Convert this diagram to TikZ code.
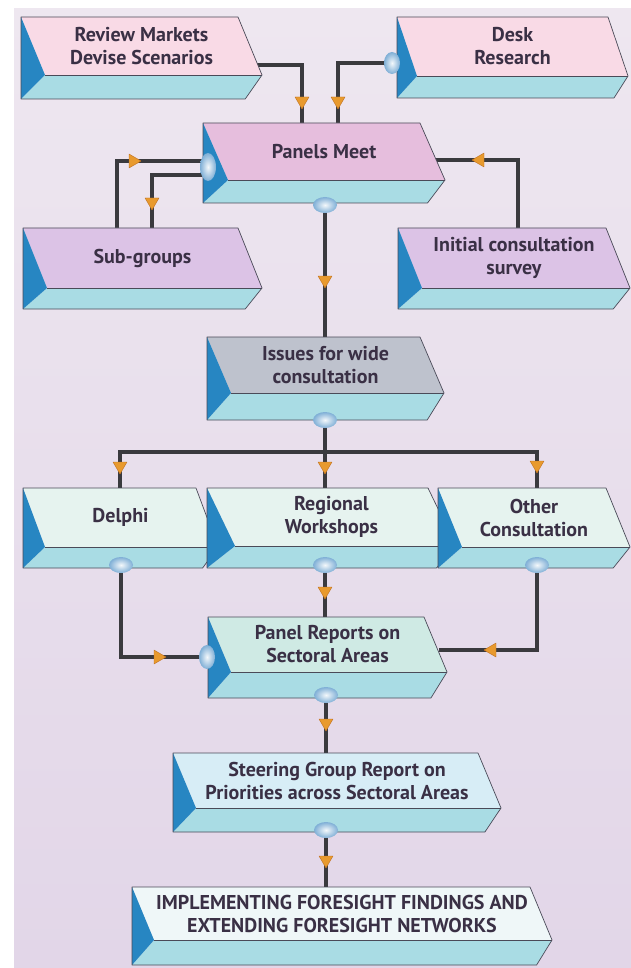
\documentclass[tikz,border=0pt]{standalone}
\usepackage{fontspec}
\setmainfont{PT Sans}
\usetikzlibrary{calc}
\definecolor{linec}{HTML}{3A3A3E}
\definecolor{frontc}{HTML}{A9DCE4}
\definecolor{tric}{HTML}{2786C2}
\definecolor{edgec}{HTML}{4A4A58}
\definecolor{textc}{HTML}{3A3045}
\definecolor{revc}{HTML}{F9DAE6}
\definecolor{pmc}{HTML}{E6BEDD}
\definecolor{subc}{HTML}{DCC3E6}
\definecolor{issc}{HTML}{BEC2CD}
\definecolor{delc}{HTML}{E6F3EF}
\definecolor{prc}{HTML}{CFEAE4}
\definecolor{stc}{HTML}{D7EDF6}
\definecolor{imc}{HTML}{EFF7F8}
\definecolor{arrowc}{HTML}{E89A2E}
\definecolor{arrowd}{HTML}{C07020}
\definecolor{ballin}{HTML}{F4F8FB}
\definecolor{ballout}{HTML}{7FAFD6}
\definecolor{bgtop}{HTML}{EEE7F0}
\definecolor{bgbot}{HTML}{E2D6E8}
\pgfdeclarelayer{back}
\pgfdeclarelayer{lines}
\pgfsetlayers{back,lines,main}
\tikzset{
  front/.style={fill=frontc},
  tri/.style={fill=tric},
  edge/.style={draw=edgec, line width=0.7pt, line join=round},
  lbl/.style={font=\bfseries\fontsize{20}{23}\selectfont, text=textc, align=center, inner sep=0pt},
  conn/.style={draw=linec, line width=3.5pt},
  arrc/.style={fill=arrowc, draw=arrowd, line width=0.4pt, line join=round},
  ballsh/.style={inner color=ballin, outer color=ballout},
}
\newcommand\prism[9]{%
  \fill[front] ({#2+#7},#5) -- ({#4+#7},#5) -- ({#4+0.3*#7},#6) -- (#2,#6) -- cycle;
  \fill[#8] (#2,#3) -- (#4,#3) -- ({#4+#7},#5) -- ({#2+#7},#5) -- cycle;
  \fill[tri] (#2,#3) -- ({#2+#7},#5) -- (#2,#6) -- cycle;
  \draw[edge] (#2,#3) -- (#4,#3) -- ({#4+#7},#5) -- ({#4+0.3*#7},#6) -- (#2,#6) -- cycle;
  \draw[edge] ({#2+#7},#5) -- ({#4+#7},#5);
  \node[lbl] (#1) at ({(#2+#4+#7)/2},{(#3+#5)/2}) {#9};
}
\newcommand\arrD[1]{\filldraw[arrc, shift={(#1)}] (0,6) -- (-7,-6) -- (7,-6) -- cycle;}
\newcommand\arrR[1]{\filldraw[arrc, shift={(#1)}] (6,0) -- (-6,-7) -- (-6,7) -- cycle;}
\newcommand\arrL[1]{\filldraw[arrc, shift={(#1)}] (-6,0) -- (6,-7) -- (6,7) -- cycle;}
\begin{document}
\begin{tikzpicture}[x=1pt,y=-1pt]
\useasboundingbox (0,0) rectangle (631,968);
\begin{pgfonlayer}{back}
  \fill[white] (0,0) rectangle (631,968);
  \shade[top color=bgtop, bottom color=bgbot] (14,9) rectangle (631,968);
\end{pgfonlayer}

\prism{rev}{21}{17}{238}{75}{99}{24}{revc}{Review Markets\\Devise Scenarios}
\prism{desk}{397}{17}{608}{76}{98}{20}{revc}{Desk\\Research}
\prism{pm}{203}{123}{420}{180}{203}{25}{pmc}{Panels Meet}
\prism{sub}{23}{228}{238}{288}{309}{24}{subc}{Sub-groups}
\prism{ics}{398}{228}{606}{288}{309}{24}{subc}{Initial consultation\\survey}
\prism{iss}{207}{337}{420}{393}{420}{24}{issc}{Issues for wide\\consultation}
\prism{del}{23}{488}{196}{547}{568}{22}{delc}{Delphi}
\prism{reg}{207}{488}{428}{546}{568}{28}{delc}{Regional\\Workshops}
\prism{oth}{438}{488}{606}{547}{568}{24}{delc}{Other\\Consultation}
\prism{pr}{208}{617}{424}{672}{698}{23}{prc}{Panel Reports on\\Sectoral Areas}
\prism{st}{173}{753}{478}{808}{832}{23}{stc}{Steering Group Report on\\Priorities across Sectoral Areas}
\prism{im}{132}{887}{530}{940}{965}{22}{imc}{IMPLEMENTING FORESIGHT FINDINGS AND\\EXTENDING FORESIGHT NETWORKS}

\coordinate (rev-out) at (257,65);
\coordinate (pm-in1) at (302,123);
\coordinate (desk-out) at (392,63);
\coordinate (pm-in2) at (338,123);
\coordinate (sub-out) at (117,228);
\coordinate (pm-l1) at (207,161);
\coordinate (pm-l2) at (207,175);
\coordinate (sub-in) at (152,228);
\coordinate (ics-out) at (518,228);
\coordinate (pm-r) at (436,160);
\coordinate (pm-b) at (325,205);
\coordinate (iss-t) at (325,337);
\coordinate (iss-b) at (325,420);
\coordinate (split) at (325,452);
\coordinate (del-t) at (120,488);
\coordinate (reg-t) at (325,488);
\coordinate (oth-t) at (537,488);
\coordinate (del-b) at (121,565);
\coordinate (reg-b) at (325,565);
\coordinate (oth-b) at (537,565);
\coordinate (pr-l) at (207,657);
\coordinate (pr-t) at (325,617);
\coordinate (pr-r) at (439,650);
\coordinate (pr-b) at (326,695);
\coordinate (st-t) at (326,753);
\coordinate (st-b) at (326,830);
\coordinate (im-t) at (326,887);

\begin{pgfonlayer}{lines}
  \draw[conn] (rev-out) -| (pm-in1);
  \draw[conn] (desk-out) -| (pm-in2);
  \draw[conn] (sub-out) |- (pm-l1);
  \draw[conn] (pm-l2) -| (sub-in);
  \draw[conn] (ics-out) |- (pm-r);
  \draw[conn] (pm-b) -- (iss-t);
  \draw[conn] (iss-b) -- (split);
  \draw[conn] (del-t) |- (split) -| (oth-t);
  \draw[conn] (split) -- (reg-t);
  \draw[conn] (del-b) |- (pr-l);
  \draw[conn] (reg-b) -- (pr-t);
  \draw[conn] (oth-b) |- (pr-r);
  \draw[conn] (pr-b) -- (st-t);
  \draw[conn] (st-b) -- (im-t);
\end{pgfonlayer}

% balls
\shade[ballsh] (desk-out) ellipse [x radius=8, y radius=11];
\shade[ballsh] (208,167) ellipse [x radius=8, y radius=14];
\shade[ballsh] (pm-b) ellipse [x radius=12, y radius=8];
\shade[ballsh] (iss-b) ellipse [x radius=12, y radius=8];
\shade[ballsh] (del-b) ellipse [x radius=12, y radius=8];
\shade[ballsh] (reg-b) ellipse [x radius=12, y radius=8];
\shade[ballsh] (oth-b) ellipse [x radius=12, y radius=8];
\shade[ballsh] (pr-l) ellipse [x radius=8, y radius=12];
\shade[ballsh] (pr-b) ellipse [x radius=12, y radius=8];
\shade[ballsh] (st-b) ellipse [x radius=12, y radius=8];

% arrowheads
\arrD{302,103}
\arrD{338,103}
\arrD{152,204}
\arrD{325,282}
\arrD{120,468}
\arrD{325,468}
\arrD{537,467}
\arrD{325,593}
\arrD{326,725}
\arrD{326,862}
\arrR{135,161}
\arrR{160,657}
\arrL{478,160}
\arrL{490,650}
\end{tikzpicture}
\end{document}
